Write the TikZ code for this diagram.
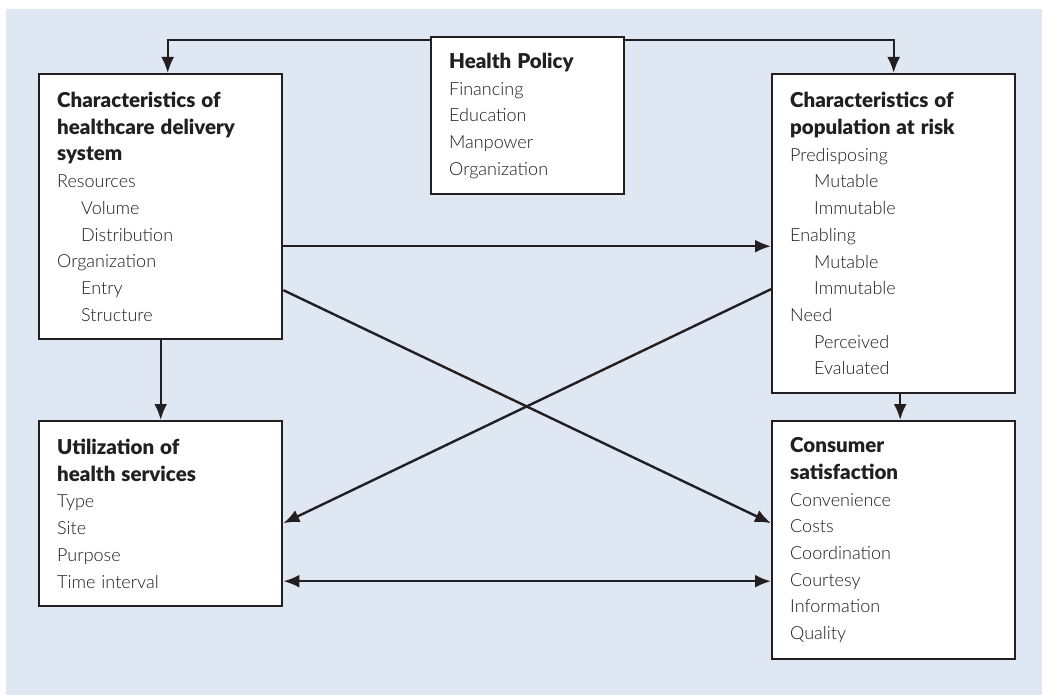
\documentclass[tikz,border=0pt]{standalone}
\usepackage{fontspec}
\setmainfont{Lato}
\newfontfamily\hdfont{Lato Black}
\newfontfamily\bodyfont{Lato Light}
\usepackage{xcolor}
\usepackage{tikz}
\usetikzlibrary{arrows.meta}
\usetikzlibrary{backgrounds}
\usetikzlibrary{calc}

\definecolor{panelblue}{RGB}{223,231,243}
\definecolor{inkline}{RGB}{35,31,32}
\definecolor{inktext}{RGB}{30,28,30}
\newcommand{\sub}{\hspace*{24pt}}
\newcommand{\hd}[1]{{\hdfont\fontsize{20.5}{26.7}\selectfont\color{inkline}#1}}

\begin{document}
\begin{tikzpicture}[x=1pt, y=-1pt]
        \tikzstyle{box} = [draw=inkline, line width=2.4pt, fill=white, anchor=north west,
                inner xsep=18pt, inner ysep=0pt, align=left, text=inktext,
                font=\bodyfont\fontsize{18}{26.7}\selectfont]
        \tikzstyle{arr} = [draw=inkline, line width=2.4pt, -{Latex[length=16pt,width=13pt]}]

        \useasboundingbox (0,0) rectangle (1042,695);
        \fill[panelblue] (6,9) rectangle (1042,695);

        % boxes
        \node[box, text width=157pt, minimum width=193pt, minimum height=157pt] (hp) at (430,36)
                {\hd{Health Policy}\\Financing\\Education\\Manpower\\Organization};
        \node[box, text width=207pt, minimum width=243pt, minimum height=265pt] (sys) at (38,73)
                {\hd{Characteristics of}\\\hd{healthcare delivery}\\\hd{system}\\Resources\\\sub Volume\\\sub Distribution\\Organization\\\sub Entry\\\sub Structure};
        \node[box, text width=207pt, minimum width=243pt, minimum height=319pt] (pop) at (771,73)
                {\hd{Characteristics of}\\\hd{population at risk}\\Predisposing\\\sub Mutable\\\sub Immutable\\Enabling\\\sub Mutable\\\sub Immutable\\Need\\\sub Perceived\\\sub Evaluated};
        \node[box, text width=207pt, minimum width=243pt, minimum height=185pt] (use) at (38,420)
                {\hd{Utilization of}\\\hd{health services}\\Type\\Site\\Purpose\\Time interval};
        \node[box, text width=207pt, minimum width=243pt, minimum height=238pt] (sat) at (771,420)
                {\hd{Consumer}\\\hd{satisfaction}\\Convenience\\Costs\\Coordination\\Courtesy\\Information\\Quality};

        % connectors
        \draw[arr] ([yshift=-4pt]hp.north west) -| ([xshift=7pt]sys.north);
        \draw[arr] ([yshift=-4pt]hp.north east) -| (pop.north);
        \draw[arr] (sys.south) -- (use.north);
        \draw[arr] ([xshift=6.5pt]pop.south) -- ([xshift=6.5pt]sat.north);
        \draw[arr] ([yshift=-39.5pt]sys.east) -- ([yshift=-12.5pt]pop.west);
        \draw[arr] ([yshift=-83.5pt]sys.east) -- ([yshift=17pt]sat.west);
        \draw[arr] ([yshift=-55.5pt]pop.west) -- ([yshift=-9.5pt]use.east);
        \draw[arr, {Latex[length=16pt,width=13pt]}-{Latex[length=16pt,width=13pt]}]
                ([yshift=-67.5pt]use.east) -- ([yshift=-41pt]sat.west);
\end{tikzpicture}
\end{document}
